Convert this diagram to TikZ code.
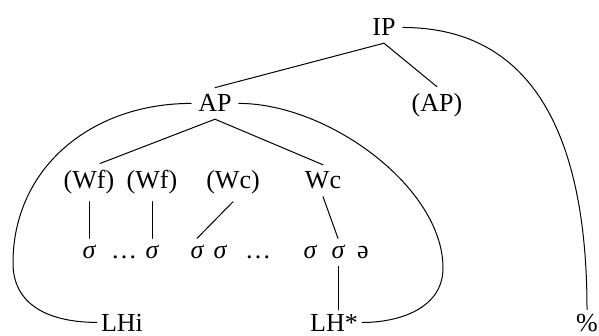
\documentclass[tikz,border=0pt]{standalone}
\usepackage{fontspec}
\setmainfont{Liberation Serif}
\begin{document}
\begin{tikzpicture}[x=1pt,y=-1pt,
  lbl/.style={font=\fontsize{26}{30}\selectfont, inner sep=7pt, anchor=base},
  syl/.style={lbl, font=\fontsize{26}{30}\selectfont\itshape},
  tone/.style={lbl, inner ysep=4pt},
  link/.style={line width=1pt, line cap=round}]
\useasboundingbox (0,0) rectangle (599,336);

% constituents
\node[lbl] (ip) at (384,36) {IP};
\node[lbl] (ap) at (215,112) {AP};
\node[lbl] (apopt) at (437,112) {(AP)};
\node[lbl] (wf1) at (89,189) {(Wf)};
\node[lbl] (wf2) at (152,189) {(Wf)};
\node[lbl] (wcopt) at (233,189) {(Wc)};
\node[lbl] (wc) at (323,189) {Wc};

% syllables
\node[syl] (s1) at (89,259) {σ};
\node[lbl] (d1) at (124,259) {…};
\node[syl] (s2) at (152,259) {σ};
\node[syl] (s3) at (197,259) {σ};
\node[syl] (s4) at (220,259) {σ};
\node[lbl] (d2) at (258,259) {…};
\node[syl] (s5) at (310,259) {σ};
\node[syl] (s6) at (338,259) {σ};
\node[lbl] (schwa) at (363,259) {ə};

% tones
\node[tone] (lhi) at (122,331) {LHi};
\node[tone] (lhs) at (334,331) {LH*};
\node[tone] (pct) at (587,331) {\%};

% tree branches
\draw[link] (ip.south) -- (ap.north);
\draw[link] (ip.south) -- (apopt.north);
\draw[link] (ap.south) -- ([xshift=11pt]wf1.north);
\draw[link] (ap.south) -- (wc.north);
\draw[link] (wf1.south) -- (s1.north);
\draw[link] (wf2.south) -- (s2.north);
\draw[link] (wcopt.south) -- (s3.north);
\draw[link] (wc.south) -- (s6.north);
\draw[link] (s6.south) -- (s6.south |- lhs.north);

% tone association curves
\coordinate (lbulge) at (13,263);
\coordinate (rbulge) at (443,268);
\draw[link] (ip.east) .. controls +(138,0) and +(0,-160) .. (pct.north);
\draw[link] (ap.west) .. controls +(-100,0) and +(0,-95) .. (lbulge)
  .. controls +(0,45) and +(-43,0) .. ([xshift=3pt]lhi.west);
\draw[link] (ap.east) .. controls +(90,0) and +(0,-80) .. (rbulge)
  .. controls +(0,40) and +(38,0) .. ([xshift=-3pt]lhs.east);
\end{tikzpicture}
\end{document}
